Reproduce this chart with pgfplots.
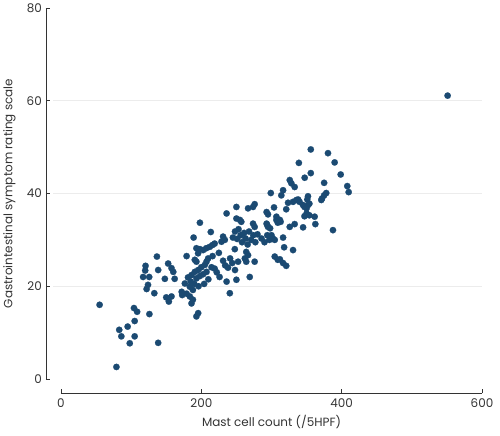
\documentclass[border=0pt]{standalone}
\usepackage{fontspec}
\setmainfont{Poppins}
\usepackage{pgfplots}
\pgfplotsset{compat=1.18}
\definecolor{pt}{RGB}{27,74,114}
\definecolor{txt}{RGB}{51,51,51}
\definecolor{gridc}{RGB}{236,236,236}
\begin{document}
\fontsize{12}{14}\selectfont
\begin{tikzpicture}
\useasboundingbox (-61bp,-57bp) rectangle (439bp,379bp);
\begin{axis}[
  at={(0,0)}, anchor=south west,
  scale only axis, width=421bp, height=371bp,
  xmin=0, xmax=600, ymin=0, ymax=80,
  axis lines*=left,
  axis x line shift=14bp, axis y line shift=15bp,
  xtick={0,200,400,600}, ytick={0,20,40,60,80},
  tick align=inside, major tick length=4bp,
  every tick/.style={txt, line width=0.9bp},
  axis line style={txt, line width=0.9bp},
  tick label style={font=\fontsize{12}{14}\selectfont, text=txt},
  /pgf/number format/assume math mode=true,
  xticklabel style={yshift=-1.5bp},
  xlabel={Mast cell count (/5HPF)},
  ylabel={Gastrointestinal symptom rating scale},
  every axis x label/.style={at={(axis description cs:0.5,-0.1285)}, anchor=base, font=\fontsize{12}{14}\selectfont, text=txt},
  every axis y label/.style={at={(axis description cs:-0.1152,0.5)}, rotate=90, anchor=base, font=\fontsize{12}{14}\selectfont, text=txt},
  clip=false,
]
\draw[gridc, line width=0.8bp] (axis cs:-11,20) -- (axis cs:600,20);
\draw[gridc, line width=0.8bp] (axis cs:-11,40) -- (axis cs:600,40);
\draw[gridc, line width=0.8bp] (axis cs:-11,60) -- (axis cs:600,60);
\addplot[only marks, color=pt, mark=*, mark size=3.2bp, mark options={solid, fill=pt, draw=pt, line width=0.2bp}] coordinates {
(55,16.0) (79,2.6) (83,10.6) (86,9.2) (95,11.3) (98,7.7) (105,12.5) (105,9.2) (104,15.3) (108.5,14.5) (126,14.0) (138.5,7.8)
(117,22.0) (120.5,24.4) (120,23.4) (124,20.3) (122,19.4) (125.7,22.0) (133,18.5) (136.7,26.4) (138.5,23.5) (148,21.6) (150,17.6)
(152.7,24.9) (153.7,16.7) (157.5,23.9) (157.5,17.8) (160,23.1) (162,21.6)
(172,18.8) (172.7,18.1) (179,18.4) (183.6,17.8) (188,17.1) (186,16.3) (193,13.5) (195.5,14.2) (179,26.5) (189,30.5) (198,33.7)
(193,28.2) (198,28.0) (195.4,27.1) (176.5,20.6) (181,21.9) (186,22.4) (190.7,23.1) (195.5,23.5) (193,21.7) (198,22.2)
(183.6,19.9) (188,19.2) (190.7,25.7) (185,21.0) (190,20.5) (196,20.0) (200,24.1) (193,25.3)
(202.6,22.6) (207.4,23.1) (214.5,24.1) (205,24.6) (207.4,25.3) (209.7,26.0) (202.6,27.8) (207,28.2) (212,28.5) (216,28.9)
(219,29.2) (213.5,31.7) (228.7,29.6) (231,30.7) (233.5,30.0) (236,35.7) (219,23.8) (222,23.0) (226,22.0) (231,25.5)
(234,24.5) (238,24.0) (236,21.0) (240.6,18.5) (210,21.5) (204,20.5) (216,26.5) (225,27.2)
(241,26.0) (244,25.0) (248,23.5) (250,21.4) (252.4,25.3) (262,26.0) (264,27.4) (266.6,26.7) (264,25.3) (269,22.0) (276,25.3)
(247.7,28.0) (245,30.5) (248,31.8) (251,30.2) (253,32.3) (256,31.0) (258,29.5) (261,31.5) (263,30.3) (266,29.0) (268,31.8)
(271,30.0) (274,31.0) (277,29.5) (280,31.2) (250,34.6) (255,34.3) (257,33.9) (250,37.1) (266.6,36.8) (276,37.7) (273.7,37.1)
(273.7,33.5) (276,32.8) (293,33.5) (295,32.8) (293,36.0) (295,35.5) (299,40.1) (285.7,30.3) (290,29.5) (294,31.0) (297,30.0)
(300,31.0) (302,30.3) (304.6,30.0) (298,32.5) (294,33.2)
(314,39.6) (303.6,37.0) (307,35.0) (312,34.3) (307,34.3) (309,33.7) (313,33.9) (304.6,26.4) (309,25.7) (316.5,25.0)
(312,25.8) (321,24.4) (316.5,30.5) (318,28.4) (330.7,27.8) (326,32.8) (333,33.4) (345,32.7) (362.5,33.4) (387.6,32.1)
(321,36.6) (323.6,38.0) (330.7,38.2) (335.5,38.6) (338,38.7) (340,38.2) (345,37.5) (347,37.1) (350,36.8) (352,37.5) (354,37.8)
(350,35.7) (354,35.3) (347,35.1) (361.5,35.0) (316.5,40.7) (326,42.9) (328.3,42.2) (333,41.4) (339,46.6) (347.3,43.4)
(356,44.4) (352,39.4) (351,38.7) (356,49.5)
(371,38.6) (372,38.9) (375,39.6) (378,40.1) (375,42.3) (380.5,48.7) (390,46.7) (398.6,44.1) (408,41.6) (410,40.3) (551,61.1)
};
\end{axis}
\end{tikzpicture}
\end{document}
